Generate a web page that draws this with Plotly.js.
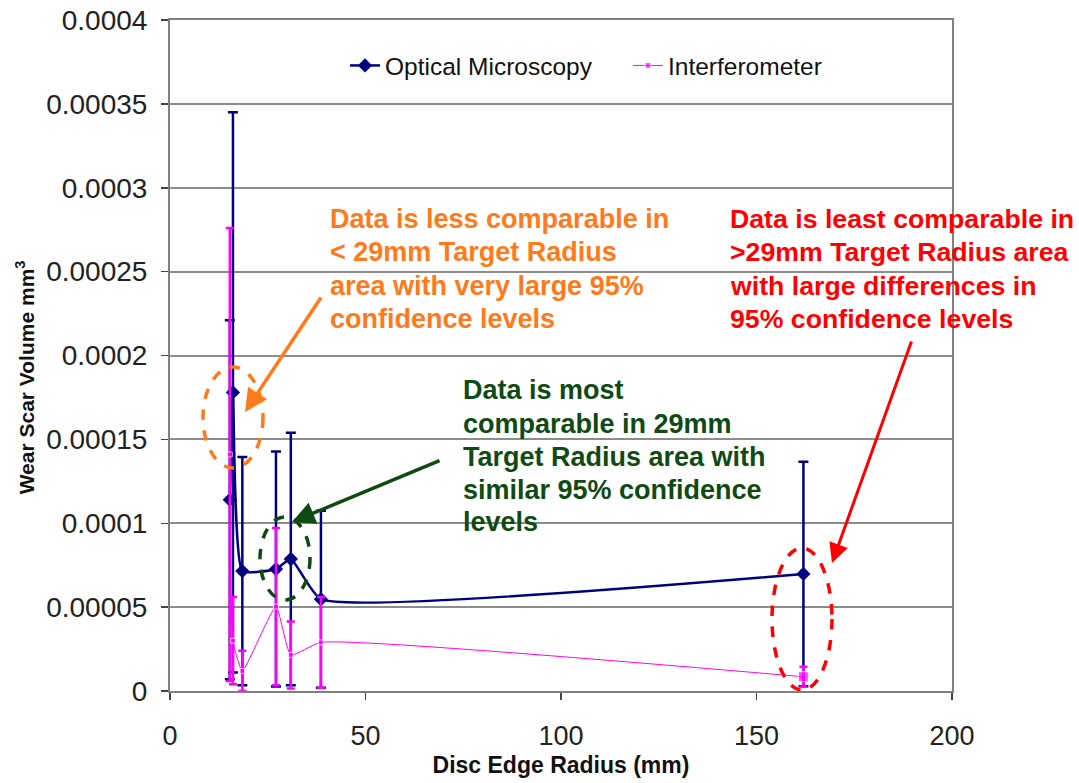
<!DOCTYPE html>
<html>
<head>
<meta charset="utf-8">
<script src="https://cdn.plot.ly/plotly-3.0.1.min.js"></script>
<style>
html,body{margin:0;padding:0;background:#fff;}
#chart{width:1079px;height:783px;}
</style>
</head>
<body>
<div id="chart"></div>
<script>
// Data
var radius = [15.3, 16.1, 18.5, 27.1, 30.9, 38.6, 162.0];
var optical = [0.000114, 0.000178, 0.0000715, 0.0000727, 0.0000787, 0.0000547, 0.0000698];
var opticalErr = [0.000107, 0.000167, 0.000068, 0.000070, 0.0000753, 0.0000528, 0.0000669];
var interferometer = [0.000141, 0.000030, 0.000012, 0.0000503, 0.0000215, 0.000029, 0.0000085];
var interferometerErr = [0.000135, 0.000026, 0.000012, 0.0000468, 0.000020, 0.000027, 0.000006];
var seriesNames = ["Optical Microscopy", "Interferometer"];
var yTickVals = [0, 0.00005, 0.0001, 0.00015, 0.0002, 0.00025, 0.0003, 0.00035, 0.0004];
var yTickText = ["0", "0.00005", "0.0001", "0.00015", "0.0002", "0.00025", "0.0003", "0.00035", "0.0004"];
var xTickVals = [0, 50, 100, 150, 200];
var xTitle = "Disc Edge Radius (mm)";
var yTitle = "Wear Scar Volume mm<sup>3</sup>";
var noteOrange = ["Data is less comparable in", "&lt; 29mm Target Radius", "area with very large 95%", "confidence levels"];
var noteRed = ["Data is least comparable in", "&gt;29mm Target Radius area", "with large differences in", "95% confidence levels"];
var noteGreen = ["Data is most", "comparable in 29mm", "Target Radius area with", "similar 95% confidence", "levels"];

var FONT = "Liberation Sans, Arial, sans-serif";
var NAVY = "#000080", PINK = "#FF00FF";
var ORANGE = "#FF7A1A", RED = "#FF0000", GREEN = "#0F4A12";

var traces = [
  {
    x: radius, y: optical, name: seriesNames[0], type: "scatter", mode: "lines+markers",
    line: {color: NAVY, width: 2.5, shape: "spline", smoothing: 0.45},
    marker: {symbol: "diamond", size: 11, color: NAVY},
    error_y: {type: "data", array: opticalErr, visible: true, color: NAVY, thickness: 2.5, width: 5}
  },
  {
    x: radius, y: interferometer, name: seriesNames[1], type: "scatter", mode: "lines+markers",
    line: {color: PINK, width: 1, shape: "spline", smoothing: 0.45},
    marker: {symbol: "square", size: [5, 5, 5, 5, 5, 5, 10], color: PINK},
    error_y: {type: "data", array: interferometerErr, visible: true, color: PINK, thickness: 2.5, width: 4}
  }
];

var px = function(p){ return (p - 170) / 3.91; };
var py = function(p){ return (691 - p) / 1677500; };
var ppx = function(p){ return (p - 170) / 782; };
var ppy = function(p){ return (691 - p) / 671; };

var annotations = [
  {xref: "paper", yref: "paper", x: -0.185, y: ppy(377), text: "<b>" + yTitle + "</b>", textangle: -90,
   showarrow: false, font: {family: FONT, size: 21, color: "#111"}, xanchor: "center", yanchor: "middle"}
];
function addLines(lines, left, centers, color, size) {
  for (var i = 0; i < lines.length; i++) {
    annotations.push({xref: "paper", yref: "paper", x: ppx(left), y: ppy(centers[i]),
      text: "<b>" + lines[i] + "</b>", align: "left", xanchor: "left", yanchor: "middle",
      showarrow: false, font: {family: FONT, size: size, color: color}});
  }
}
addLines(noteOrange, 328, [219, 252, 286, 319], ORANGE, 27);
addLines(noteRed, 728, [219, 252, 286, 319], RED, 26.7);
addLines(noteGreen, 461, [390, 424, 457, 490, 522], GREEN, 27);
annotations.push(
  {xref: "x", yref: "y", x: px(245), y: py(412), axref: "x", ayref: "y", ax: px(322), ay: py(296),
   text: "", showarrow: true, arrowhead: 2, arrowsize: 1.3, arrowwidth: 3.5, arrowcolor: ORANGE},
  {xref: "x", yref: "y", x: px(292), y: py(522), axref: "x", ayref: "y", ax: px(441), ay: py(460),
   text: "", showarrow: true, arrowhead: 2, arrowsize: 1.3, arrowwidth: 3.5, arrowcolor: GREEN},
  {xref: "x", yref: "y", x: px(832), y: py(563), axref: "x", ayref: "y", ax: px(912), ay: py(340),
   text: "", showarrow: true, arrowhead: 2, arrowsize: 1.3, arrowwidth: 3, arrowcolor: RED}
);

var layout = {
  width: 1079, height: 783,
  margin: {l: 170, r: 127, t: 20, b: 92},
  paper_bgcolor: "#fff", plot_bgcolor: "#fff",
  font: {family: FONT, color: "#111"},
  showlegend: true,
  legend: {
    orientation: "h", x: ppx(345), y: ppy(43), xanchor: "left", yanchor: "top",
    entrywidth: 238, entrywidthmode: "pixels",
    font: {family: FONT, size: 24.5, color: "#111"}, bgcolor: "rgba(0,0,0,0)"
  },
  xaxis: {
    range: [0, 200], tickvals: xTickVals, showgrid: false, zeroline: false,
    showline: true, linecolor: "#808080", linewidth: 2, mirror: true,
    ticks: "outside", ticklen: 7, tickcolor: "#444", tickwidth: 1.5,
    tickfont: {family: FONT, size: 27, color: "#222"}, ticklabelstandoff: 13,
    title: {text: xTitle, font: {family: FONT, size: 23, color: "#111", weight: "bold"}, standoff: 6}
  },
  yaxis: {
    range: [0, 0.0004], tickvals: yTickVals, ticktext: yTickText,
    showgrid: true, gridcolor: "#8c8c8c", gridwidth: 2, zeroline: false,
    showline: true, linecolor: "#808080", linewidth: 2, mirror: true,
    ticks: "outside", ticklen: 7, tickcolor: "#444", tickwidth: 1.5,
    tickfont: {family: FONT, size: 28, color: "#222"}, ticklabelstandoff: 8
  },
  annotations: annotations,
  shapes: [
    {type: "circle", xref: "x", yref: "y", x0: px(203), x1: px(263), y0: py(468), y1: py(367),
     line: {color: ORANGE, width: 3.5, dash: "dash"}},
    {type: "circle", xref: "x", yref: "y", x0: px(260), x1: px(310), y0: py(600), y1: py(517),
     line: {color: GREEN, width: 3.5, dash: "dash"}},
    {type: "circle", xref: "x", yref: "y", x0: px(772), x1: px(832), y0: py(690), y1: py(548),
     line: {color: RED, width: 3.5, dash: "dash"}}
  ]
};

Plotly.newPlot("chart", traces, layout, {displayModeBar: false, staticPlot: true});
</script>
</body>
</html>
